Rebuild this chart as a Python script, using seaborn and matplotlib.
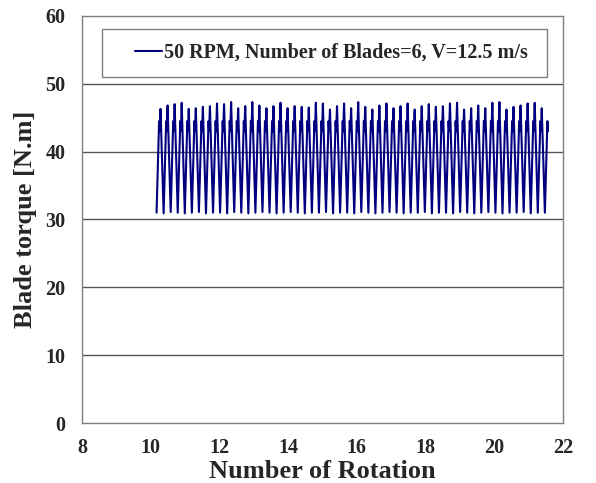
import numpy as np
import pandas as pd
import matplotlib
matplotlib.use('Agg')
import matplotlib.pyplot as plt
import seaborn as sns
from matplotlib.patches import Rectangle

# Torque trace, cycle by cycle
first_min_rotation = 10.17
cycle_length = 0.2055
cycle_min = [31.0, 30.9, 31.1, 31.0, 30.9, 31.0, 31.1, 30.9, 31.0, 31.0, 30.9, 31.1, 31.0, 30.9,
             31.0, 31.1, 31.0, 30.9, 31.0, 31.1, 31.0, 30.9, 31.0, 31.0, 31.1, 30.9, 31.0, 31.0,
             30.9, 31.1, 31.0, 30.9, 31.0, 31.1, 31.0, 30.9, 31.0, 31.0, 31.1, 30.9, 31.0, 31.0,
             30.9, 31.1, 31.0, 30.9, 31.0, 31.1, 31.0, 30.9, 31.0, 31.0, 31.1, 30.9, 31.0, 31.0]
cycle_peak = [46.3, 46.8, 47.0, 47.2, 46.3, 46.4, 46.6, 46.7, 47.1, 47.0, 47.3, 46.4, 46.7, 47.3,
              46.8, 46.4, 46.7, 47.2, 46.4, 46.7, 46.6, 46.5, 47.2, 47.1, 46.2, 46.7, 47.1, 46.4,
              47.3, 46.6, 46.2, 46.8, 47.1, 46.4, 46.7, 47.1, 46.2, 46.7, 47.0, 46.6, 46.7, 47.1,
              47.2, 46.2, 46.4, 46.8, 46.4, 47.2, 47.3, 46.2, 46.6, 46.8, 47.1, 47.2, 46.4]
shoulder_level = 44.5
notch_level = 43.0
shoulder_phase, notch_phase, peak_phase = 0.36, 0.44, 0.56
label = '50 RPM, Number of Blades=6, V=12.5 m/s'

xs, ys = [], []
for k, lo in enumerate(cycle_min):
    x0 = first_min_rotation + k * cycle_length
    xs.append(x0)
    ys.append(lo)
    xs += [x0 + shoulder_phase * cycle_length, x0 + notch_phase * cycle_length]
    ys += [shoulder_level, notch_level]
    if k < len(cycle_peak):
        xs.append(x0 + peak_phase * cycle_length)
        ys.append(cycle_peak[k])
df = pd.DataFrame({'rotation': xs, 'torque': ys, 'case': label})

sns.set_style('white')
plt.rcParams['font.family'] = ['Liberation Serif', 'DejaVu Serif']
plt.rcParams['font.weight'] = 'bold'

fig = plt.figure(figsize=(5.96, 4.83), dpi=100)
ax = fig.add_axes([0.1376, 0.1242, 0.807, 0.8428])

sns.lineplot(data=df, x='rotation', y='torque', hue='case', palette=['#000080'],
             estimator=None, sort=False, linewidth=1.5, ax=ax)

ax.set_xlim(8, 22)
ax.set_ylim(0, 60)
ax.set_xticks(range(8, 23, 2))
ax.set_yticks(range(0, 61, 10))
for y in range(10, 60, 10):
    ax.axhline(y, color='#555555', lw=1, zorder=0)
ax.tick_params(axis='x', direction='in', length=4, color='#808080', pad=11, labelsize=14.5)
ax.tick_params(axis='y', length=0, pad=12, labelsize=14.5)
for lab in ax.get_xticklabels() + ax.get_yticklabels():
    lab.set_fontweight('bold')
for s in ax.spines.values():
    s.set_color('#808080')
    s.set_linewidth(1)

ax.set_xlabel('Number of Rotation', fontsize=19, fontweight='bold', labelpad=1)
ax.set_ylabel('Blade torque [N.m]', fontsize=19, fontweight='bold', labelpad=6)

ax.add_patch(Rectangle((0.0416, 0.850), 0.925, 0.118, transform=ax.transAxes,
                       facecolor='white', edgecolor='#808080', lw=1, zorder=3))
leg = ax.legend(loc='center left', bbox_to_anchor=(0.089, 0.909), frameon=False,
                borderpad=0, handlelength=1.35, handletextpad=0.1,
                prop={'size': 14.5, 'weight': 'bold'})
leg.set_zorder(4)

fig.savefig('out.png', dpi=100)
